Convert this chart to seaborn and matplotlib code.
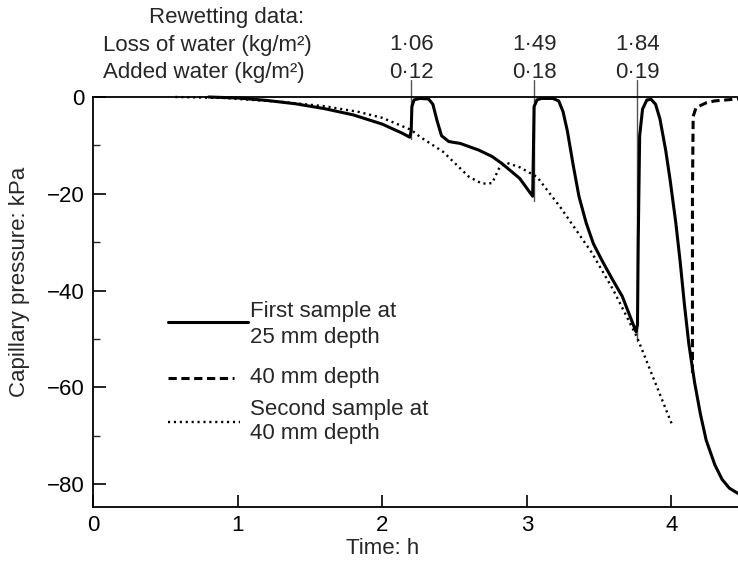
import matplotlib
matplotlib.use("Agg")
import matplotlib.pyplot as plt
import matplotlib.transforms as mtransforms
from matplotlib.ticker import MultipleLocator
import seaborn as sns
import pandas as pd

# === DATA ===
# first sample at 25 mm depth (solid)
t_first = [0.8, 1.0, 1.2, 1.4, 1.6, 1.8, 2.0, 2.14, 2.19, 2.20, 2.205, 2.22, 2.26, 2.32,
           2.35, 2.38, 2.41, 2.46, 2.54, 2.67, 2.76, 2.83, 2.95, 3.04, 3.045, 3.05, 3.07,
           3.10, 3.18, 3.22, 3.25, 3.28, 3.32, 3.36, 3.41, 3.46, 3.52, 3.59, 3.66, 3.755,
           3.765, 3.77, 3.78, 3.80, 3.83, 3.86, 3.89, 3.92, 3.96, 3.99, 4.03, 4.06, 4.09,
           4.12, 4.16, 4.20, 4.24, 4.30, 4.35, 4.40, 4.46]
p_first = [0, -0.2, -0.7, -1.4, -2.4, -3.7, -5.6, -7.5, -8.3, -7.0, -2.0, -0.6, -0.3, -0.4,
           -1.5, -5.0, -8.0, -9.2, -9.6, -11.0, -12.3, -13.8, -16.8, -20.5, -12.0, -2.0, -0.6,
           -0.3, -0.3, -0.8, -3.0, -7.0, -14.0, -20.5, -26.0, -30.3, -33.8, -37.6, -41.2, -48.5,
           -47.0, -30.0, -8.0, -2.5, -0.6, -0.5, -1.5, -4.5, -11.0, -17.0, -26.0, -34.0, -43.0,
           -51.0, -59.0, -65.5, -70.9, -76.0, -79.0, -80.8, -81.9]

# 40 mm depth (dashed)
t_40 = [4.145, 4.145, 4.15, 4.17, 4.24, 4.30, 4.46]
p_40 = [-57.0, -20.0, -4.0, -2.2, -1.2, -0.8, -0.4]

# second sample at 40 mm depth (dotted)
t_second = [0.57, 0.9, 1.05, 1.3, 1.6, 1.84, 2.0, 2.2, 2.26, 2.42, 2.6, 2.69, 2.76, 2.81,
            2.86, 2.95, 3.07, 3.23, 3.45, 3.6, 3.76, 3.87, 4.0]
p_second = [0, -0.2, -0.5, -1.0, -1.9, -3.1, -4.3, -6.8, -8.2, -11.3, -16.5, -17.9, -17.8,
            -14.6, -13.6, -14.5, -16.5, -22.7, -32.2, -40.0, -49.5, -57.7, -67.4]

# rewetting events
rewet_t = [2.2, 3.05, 3.765]
rewet_low = [-8.7, -21.5, -50.5]
loss_water = ["1·06", "1·49", "1·84"]
added_water = ["0·12", "0·18", "0·19"]

df_first = pd.DataFrame({"t": t_first, "p": p_first})
df_40 = pd.DataFrame({"t": t_40, "p": p_40})
df_second = pd.DataFrame({"t": t_second, "p": p_second})

# === PLOT ===
sns.set_style("ticks")
plt.rcParams["font.family"] = ["Liberation Sans", "DejaVu Sans"]
FS = 16

fig = plt.figure(figsize=(7.38, 5.68), dpi=100)
ax = fig.add_axes([93 / 738, 1 - 507 / 568, 1 - 93 / 738, (507 - 97) / 568])

sns.lineplot(data=df_first, x="t", y="p", sort=False, estimator=None, color="black",
             lw=2.2, ax=ax, clip_on=False)
sns.lineplot(data=df_40, x="t", y="p", sort=False, estimator=None, color="black",
             lw=2.2, ax=ax, clip_on=False)
ax.lines[-1].set_dashes([2.7, 1.5])
sns.lineplot(data=df_second, x="t", y="p", sort=False, estimator=None, color="black",
             lw=1.7, ax=ax, clip_on=False)
ax.lines[-1].set_dashes([0.9, 1.6])

for t, low in zip(rewet_t, rewet_low):
    ax.plot([t, t], [3.6, low], color="#555555", lw=1.0, clip_on=False, zorder=1)

ax.set_xlim(0, 4.46)
ax.set_ylim(-84.7, 0)
ax.set_xticks([0, 1, 2, 3, 4])
ax.set_yticks([0, -20, -40, -60, -80])
ax.yaxis.set_minor_locator(MultipleLocator(10))
ax.tick_params(axis="both", which="major", direction="in", length=9, width=1.2,
               labelsize=FS, pad=6, colors="black")
ax.tick_params(axis="y", which="minor", direction="in", length=5, width=1.0)
for s in ["left", "bottom", "top"]:
    ax.spines[s].set_linewidth(1.3)
    ax.spines[s].set_color("black")
ax.spines["right"].set_visible(False)

ax.set_xlabel("Time: h", fontsize=FS)
ax.set_ylabel("Capillary pressure: kPa", fontsize=FS)
ax.xaxis.set_label_coords((383 - 93) / 645, -(548 - 507) / 410)
ax.yaxis.set_label_coords(-(93 - 20) / 645, (507 - 282) / 410)
ax.xaxis.label.set_va("center")
ax.yaxis.label.set_va("center")

# legend drawn by hand, as in the figure
def fx(x):
    return x / 738
def fy(y):
    return 1 - y / 568

fig.add_artist(plt.Line2D([fx(168), fx(248)], [fy(322), fy(322)], color="black", lw=2.2))
fig.add_artist(plt.Line2D([fx(168), fx(234)], [fy(378), fy(378)], color="black", lw=2.2,
                          dashes=[2.7, 1.5]))
fig.add_artist(plt.Line2D([fx(168), fx(240)], [fy(422), fy(422)], color="black", lw=1.7,
                          dashes=[0.9, 1.6]))
fig.text(fx(250), fy(311), "First sample at", va="center", fontsize=FS)
fig.text(fx(250), fy(337), "25 mm depth", va="center", fontsize=FS)
fig.text(fx(250), fy(378), "40 mm depth", va="center", fontsize=FS)
fig.text(fx(250), fy(410), "Second sample at", va="center", fontsize=FS)
fig.text(fx(250), fy(434), "40 mm depth", va="center", fontsize=FS)

# rewetting header
fig.text(fx(227), fy(18), "Rewetting data:", ha="center", va="center", fontsize=FS)
fig.text(fx(103), fy(45), "Loss of water (kg/m²)", ha="left", va="center", fontsize=FS)
fig.text(fx(103), fy(72), "Added water (kg/m²)", ha="left", va="center", fontsize=FS)
trans = mtransforms.blended_transform_factory(ax.transData, fig.transFigure)
for t, lw_, aw in zip(rewet_t, loss_water, added_water):
    ax.text(t, fy(45), lw_, transform=trans, ha="center", va="center", fontsize=FS)
    ax.text(t, fy(72), aw, transform=trans, ha="center", va="center", fontsize=FS)

plt.savefig("out.png", dpi=100)
